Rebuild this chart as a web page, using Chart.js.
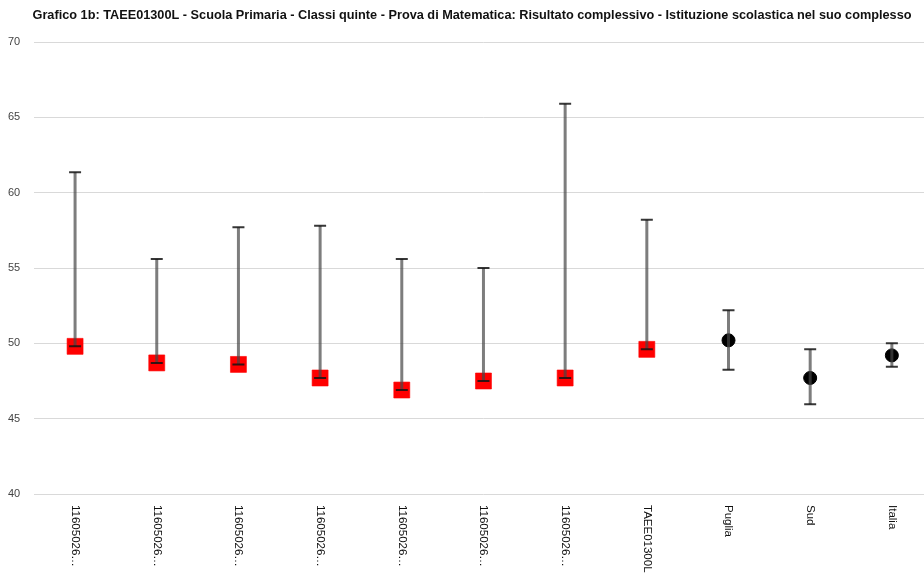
<!DOCTYPE html>
<html>
<head>
<meta charset="utf-8">
<script src="https://cdn.jsdelivr.net/npm/chart.js@4.4.1/dist/chart.umd.min.js"></script>
<style>
  html, body { margin: 0; padding: 0; background: #fff; overflow: hidden; }
  #chart { display: block; }
</style>
</head>
<body>
<canvas id="chart" width="945" height="574"></canvas>
<script>
const TITLE = 'Grafico 1b: TAEE01300L - Scuola Primaria - Classi quinte - Prova di Matematica: Risultato complessivo - Istituzione scolastica nel suo complesso';

const categories = [
    '11605026…', '11605026…', '11605026…', '11605026…', '11605026…', '11605026…', '11605026…',
    'TAEE01300L', 'Puglia', 'Sud', 'Italia'
];
// punteggio medio e intervallo
const scores = [49.8, 48.7, 48.6, 47.7, 46.9, 47.5, 47.7, 49.6, 50.2, 47.7, 49.2];
const lows   = [49.8, 48.7, 48.6, 47.7, 46.9, 47.5, 47.7, 49.6, 48.25, 45.95, 48.45];
const highs  = [61.35, 55.6, 57.7, 57.8, 55.6, 55.0, 65.9, 58.2, 52.2, 49.6, 50.0];
// quali punti sono della scuola (quadrato rosso) o di riferimento (cerchio nero)
const isReference = [false, false, false, false, false, false, false, false, true, true, true];

const yTicks = [40, 45, 50, 55, 60, 65, 70];

const errorBars = {
    id: 'errorBars',
    afterDatasetsDraw(chart) {
        const { ctx } = chart;
        const x = chart.scales.x;
        const y = chart.scales.y;
        ctx.save();
        categories.forEach((c, i) => {
            const px = x.getPixelForValue(i);
            const top = y.getPixelForValue(highs[i]);
            const bot = y.getPixelForValue(lows[i]);
            ctx.strokeStyle = 'rgba(70,70,70,0.7)';
            ctx.lineWidth = 3;
            ctx.beginPath();
            ctx.moveTo(px, top);
            ctx.lineTo(px, bot);
            ctx.stroke();
            ctx.strokeStyle = 'rgba(20,20,20,0.85)';
            ctx.lineWidth = 2;
            ctx.beginPath();
            ctx.moveTo(px - 6, top);
            ctx.lineTo(px + 6, top);
            ctx.moveTo(px - 6, bot);
            ctx.lineTo(px + 6, bot);
            ctx.stroke();
        });
        ctx.restore();
    }
};

// titolo ed etichette asse x ruotate di 90 gradi (lettura dall'alto in basso)
const textLayer = {
    id: 'textLayer',
    afterDraw(chart) {
        const { ctx, chartArea } = chart;
        const x = chart.scales.x;
        ctx.save();
        ctx.font = 'bold 13px "Liberation Sans", Arial, sans-serif';
        ctx.fillStyle = '#111';
        ctx.textAlign = 'center';
        ctx.textBaseline = 'middle';
        const w = ctx.measureText(TITLE).width;
        ctx.translate(472, 15);
        ctx.scale(Math.min(1, 879 / w), 1);
        ctx.fillText(TITLE, 0, 0);
        ctx.restore();

        ctx.save();
        ctx.font = '11.5px "Liberation Sans", Arial, sans-serif';
        ctx.fillStyle = '#111';
        ctx.textAlign = 'left';
        ctx.textBaseline = 'middle';
        categories.forEach((c, i) => {
            ctx.save();
            ctx.translate(x.getPixelForValue(i), chartArea.bottom + 11);
            ctx.rotate(Math.PI / 2);
            ctx.fillText(c, 0, 0);
            ctx.restore();
        });
        ctx.restore();
    }
};

new Chart(document.getElementById('chart'), {
    type: 'line',
    data: {
        labels: categories,
        datasets: [{
            data: scores,
            showLine: false,
            pointStyle: isReference.map(r => r ? 'circle' : 'rect'),
            pointRadius: isReference.map(r => r ? 6.5 : 11.3),
            pointHoverRadius: isReference.map(r => r ? 6.5 : 11.3),
            pointBackgroundColor: isReference.map(r => r ? '#000000' : '#ff0000'),
            pointBorderColor: isReference.map(r => r ? '#000000' : 'rgba(255,0,0,0.6)'),
            pointBorderWidth: 1
        }]
    },
    options: {
        responsive: false,
        animation: false,
        layout: { padding: { left: -6, right: 1, bottom: 72, top: 42 } },
        plugins: {
            legend: { display: false },
            tooltip: { enabled: false },
            title: { display: false }
        },
        scales: {
            x: {
                type: 'category',
                offset: true,
                grid: { display: false },
                border: { display: false },
                ticks: { display: false }
            },
            y: {
                min: 40,
                max: 70,
                afterBuildTicks(axis) { axis.ticks = yTicks.map(v => ({ value: v })); },
                grid: { color: '#d9d9d9', lineWidth: 1, drawTicks: false },
                border: { display: false },
                ticks: {
                    color: '#444',
                    padding: 14,
                    font: { family: '"Liberation Sans", Arial, sans-serif', size: 11 }
                }
            }
        }
    },
    plugins: [errorBars, textLayer]
});
</script>
</body>
</html>
